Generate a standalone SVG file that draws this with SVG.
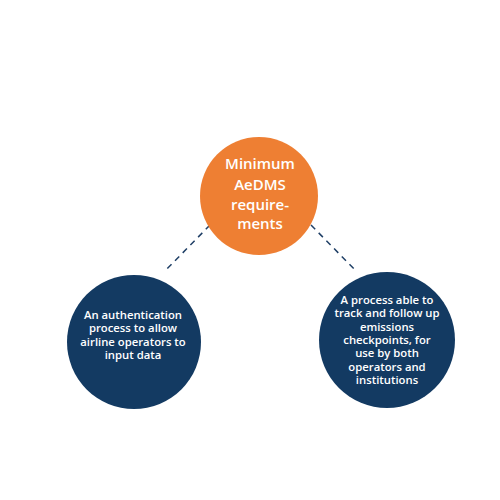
<svg xmlns="http://www.w3.org/2000/svg" width="500" height="500" viewBox="0 0 500 500">
<style>
.t{font-family:"Open Sans","Noto Sans","DejaVu Sans",sans-serif;fill:#fff;text-anchor:middle;font-weight:600}
.big{font-size:15px}
.sm{font-size:11.3px}
.c{stroke:#1F3F66;stroke-width:1.5;stroke-dasharray:6,5;fill:none}
</style>
<rect width="500" height="500" fill="#fff"/>
<g id="connectors">
<line class="c" x1="210" y1="225" x2="164" y2="272"/>
<line class="c" x1="311" y1="225" x2="357" y2="272"/>
</g>
<g id="center">
<circle cx="259" cy="196" r="59" fill="#EE7F33"/>
<text class="t big"><tspan x="260" y="169">Minimum</tspan><tspan x="260" y="190">AeDMS</tspan><tspan x="260" y="210">require-</tspan><tspan x="260" y="229">ments</tspan></text>
</g>
<g id="left">
<circle cx="134" cy="342" r="67" fill="#133A62"/>
<text class="t sm"><tspan x="133" y="319">An authentication</tspan><tspan x="133" y="332">process to allow</tspan><tspan x="133" y="346">airline operators to</tspan><tspan x="133" y="359">input data</tspan></text>
</g>
<g id="right">
<circle cx="387" cy="340" r="68" fill="#133A62"/>
<text class="t sm"><tspan x="387" y="304">A process able to</tspan><tspan x="387" y="317">track and follow up</tspan><tspan x="387" y="331">emissions</tspan><tspan x="387" y="344">checkpoints, for</tspan><tspan x="387" y="357">use by both</tspan><tspan x="387" y="371">operators and</tspan><tspan x="387" y="384">institutions</tspan></text>
</g>
</svg>
